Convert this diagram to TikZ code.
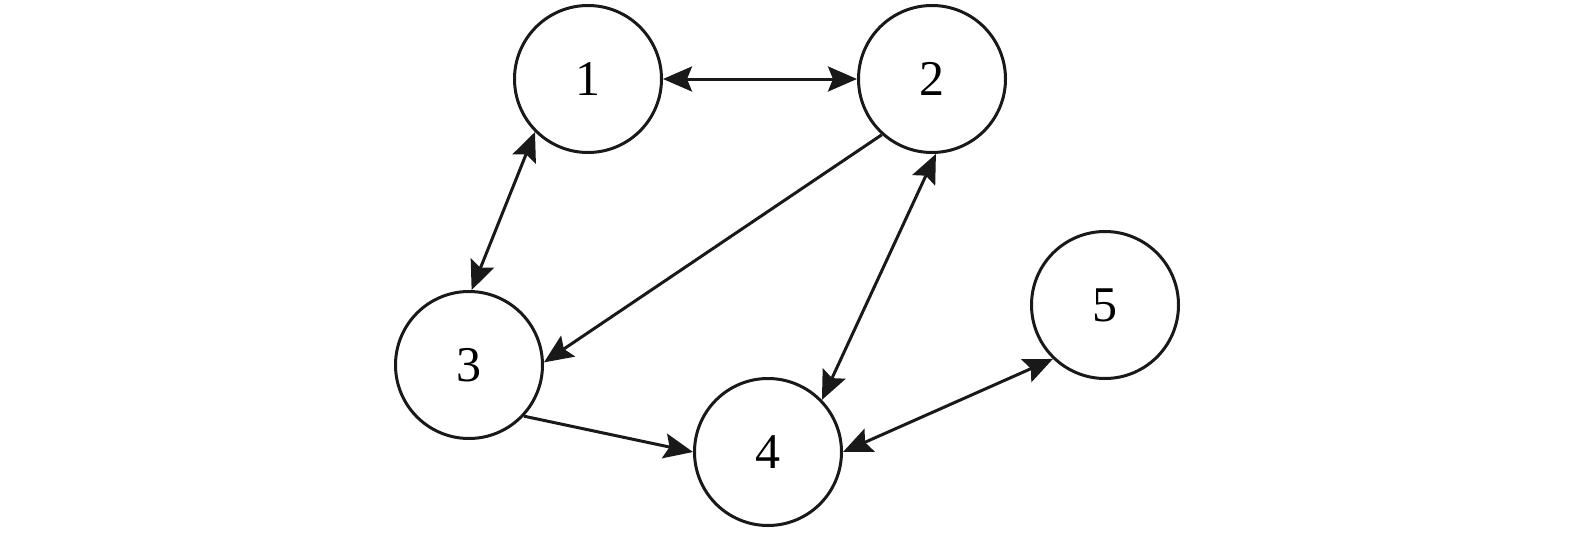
\documentclass[tikz,border=0pt]{standalone}
\usepackage{fontspec}
\setmainfont{Liberation Serif}
\usetikzlibrary{arrows.meta}
\begin{document}
\begin{tikzpicture}[x=1pt,y=1pt,
  vtx/.style={circle,draw=black!90,line width=3pt,minimum size=147pt,inner sep=0pt,font=\fontsize{50}{50}\selectfont},
  edge/.style={line width=3pt,draw=black!90},
  tipA/.style={-{Stealth[length=29pt,width=25pt,inset=5pt]}},
  tipB/.style={{Stealth[length=29pt,width=25pt,inset=5pt]}-{Stealth[length=29pt,width=25pt,inset=5pt]}}]
\useasboundingbox (0,0) rectangle (1575,-533);
\node[vtx] (n1) at (588,-79) {1};
\node[vtx] (n2) at (932,-79) {2};
\node[vtx] (n3) at (469,-365) {3};
\node[vtx] (n4) at (768,-452) {4};
\node[vtx] (n5) at (1105,-305) {5};
\draw[edge,tipB] (n1.0) -- (n2.180);
\draw[edge,tipB] (n1.225) -- (n3.88);
\draw[edge,tipA] (n2.228) -- (n3.2);
\draw[edge,tipB] (n2.273) -- (n4.44);
\draw[edge,tipA] (n3.317) -- (n4.180);
\draw[edge,tipB] (n4.0) -- (n5.226);
\end{tikzpicture}
\end{document}
